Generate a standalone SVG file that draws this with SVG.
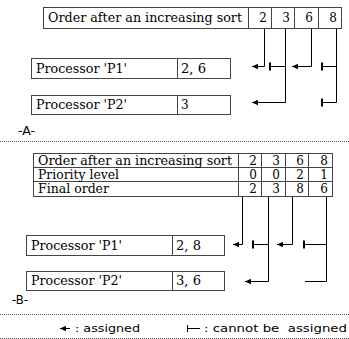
<svg xmlns="http://www.w3.org/2000/svg" width="349" height="339" viewBox="0 0 349 339">
<style>
.box{fill:#fff;stroke:#444;stroke-width:1}
.cell{fill:none;stroke:#444;stroke-width:1}
.n{text-anchor:end}
.c{fill:none;stroke:#000;stroke-width:1}
.bar{stroke:#000;stroke-width:2}
.dot{stroke:#555;stroke-width:1;stroke-dasharray:1,1}
</style>
<defs>
<marker id="arr" viewBox="0 0 6 6" refX="6" refY="3" markerWidth="6" markerHeight="6" orient="auto" markerUnits="userSpaceOnUse">
<path d="M0,0.3 L6,3 L0,5.7 Z" fill="#000"/>
</marker>
</defs>

<g font-family="DejaVu Serif, Liberation Serif, serif" font-size="12" fill="#000">
<g id="tableA">
<rect class="box" x="43.5" y="7.5" width="298" height="21"/>
<path class="cell" d="M248.5,7.5V28.5M271.5,7.5V28.5M294.5,7.5V28.5M318.5,7.5V28.5"/>
<text x="48" y="22" textLength="194" lengthAdjust="spacingAndGlyphs">Order after an increasing sort</text>
<text class="n" x="267" y="22">2</text>
<text class="n" x="290" y="22">3</text>
<text class="n" x="313" y="22">6</text>
<text class="n" x="337" y="22">8</text>
</g>
<g id="procA1">
<rect class="box" x="31.5" y="58.5" width="199" height="20"/>
<path class="cell" d="M177.5,58.5V78.5"/>
<text x="36" y="73" textLength="91" lengthAdjust="spacingAndGlyphs">Processor 'P1'</text>
<text x="181" y="73" textLength="25" lengthAdjust="spacingAndGlyphs">2, 6</text>
</g>
<g id="procA2">
<rect class="box" x="31.5" y="95.5" width="199" height="19"/>
<path class="cell" d="M177.5,95.5V114.5"/>
<text x="36" y="109" textLength="91" lengthAdjust="spacingAndGlyphs">Processor 'P2'</text>
<text x="181" y="109">3</text>
</g>
<g id="tableB">
<rect class="box" x="33.5" y="153.5" width="299" height="43"/>
<path class="cell" d="M33.5,167.5H332.5M33.5,181.5H332.5M238.5,153.5V196.5M261.5,153.5V196.5M285.5,153.5V196.5M308.5,153.5V196.5"/>
<text x="38" y="165" textLength="194" lengthAdjust="spacingAndGlyphs">Order after an increasing sort</text>
<text x="38" y="179" textLength="81" lengthAdjust="spacingAndGlyphs">Priority level</text>
<text x="38" y="193" textLength="71" lengthAdjust="spacingAndGlyphs">Final order</text>
<text class="n" x="257" y="165">2</text><text class="n" x="280" y="165">3</text><text class="n" x="304" y="165">6</text><text class="n" x="328" y="165">8</text>
<text class="n" x="257" y="179">0</text><text class="n" x="280" y="179">0</text><text class="n" x="304" y="179">2</text><text class="n" x="328" y="179">1</text>
<text class="n" x="257" y="193">2</text><text class="n" x="280" y="193">3</text><text class="n" x="304" y="193">8</text><text class="n" x="328" y="193">6</text>
</g>
<g id="procB1">
<rect class="box" x="26.5" y="235.5" width="198" height="20"/>
<path class="cell" d="M172.5,235.5V255.5"/>
<text x="31" y="250" textLength="91" lengthAdjust="spacingAndGlyphs">Processor 'P1'</text>
<text x="176" y="250" textLength="25" lengthAdjust="spacingAndGlyphs">2, 8</text>
</g>
<g id="procB2">
<rect class="box" x="26.5" y="271.5" width="198" height="19"/>
<path class="cell" d="M172.5,271.5V290.5"/>
<text x="31" y="285" textLength="91" lengthAdjust="spacingAndGlyphs">Processor 'P2'</text>
<text x="176" y="285" textLength="25" lengthAdjust="spacingAndGlyphs">3, 6</text>
</g>
</g>

<g font-family="DejaVu Sans, Liberation Sans, sans-serif" font-size="12" fill="#000">
<text x="18" y="135" textLength="17" lengthAdjust="spacingAndGlyphs">-A-</text>
<text x="12" y="304" textLength="16" lengthAdjust="spacingAndGlyphs">-B-</text>
</g>
<line class="dot" x1="0" y1="141.5" x2="349" y2="141.5"/>
<line class="dot" x1="0" y1="314.5" x2="349" y2="314.5"/>

<g id="connectors">
<path class="c" d="M264.5,29V66.5H252" marker-end="url(#arr)"/>
<path class="c" d="M285.5,29V102.5H252" marker-end="url(#arr)"/>
<path class="c" d="M270,66.5H285.5"/>
<line class="bar" x1="270" y1="62.5" x2="270" y2="70.5"/>
<path class="c" d="M311.5,29V66.5H292" marker-end="url(#arr)"/>
<path class="c" d="M336.5,29V102.5H322M322,66.5H336.5"/>
<line class="bar" x1="322" y1="62.5" x2="322" y2="70.5"/>
<line class="bar" x1="322" y1="98.5" x2="322" y2="106.5"/>

<path class="c" d="M242.5,197V244.5H233" marker-end="url(#arr)"/>
<path class="c" d="M268.5,197V281.5H245" marker-end="url(#arr)"/>
<path class="c" d="M253,244.5H268.5"/>
<line class="bar" x1="253" y1="240.5" x2="253" y2="248.5"/>
<path class="c" d="M292.5,197V244.5H277" marker-end="url(#arr)"/>
<path class="c" d="M326.5,197V281.5H305M304,244.5H326.5"/>
<line class="bar" x1="304" y1="240.5" x2="304" y2="248.5"/>
</g>

<g id="legend" font-family="DejaVu Sans, Liberation Sans, sans-serif" font-size="11" fill="#000">
<path class="c" d="M70,328.5H60" marker-end="url(#arr)"/>
<text x="75" y="332" textLength="65" lengthAdjust="spacingAndGlyphs">: assigned</text>
<path class="c" d="M187,328.5H200"/>
<line x1="187.5" y1="325" x2="187.5" y2="332" stroke="#000" stroke-width="1"/>
<text x="204" y="332" xml:space="preserve" textLength="143" lengthAdjust="spacingAndGlyphs">: cannot be  assigned</text>
</g>
<line class="dot" x1="0" y1="338.5" x2="349" y2="338.5"/>
</svg>
